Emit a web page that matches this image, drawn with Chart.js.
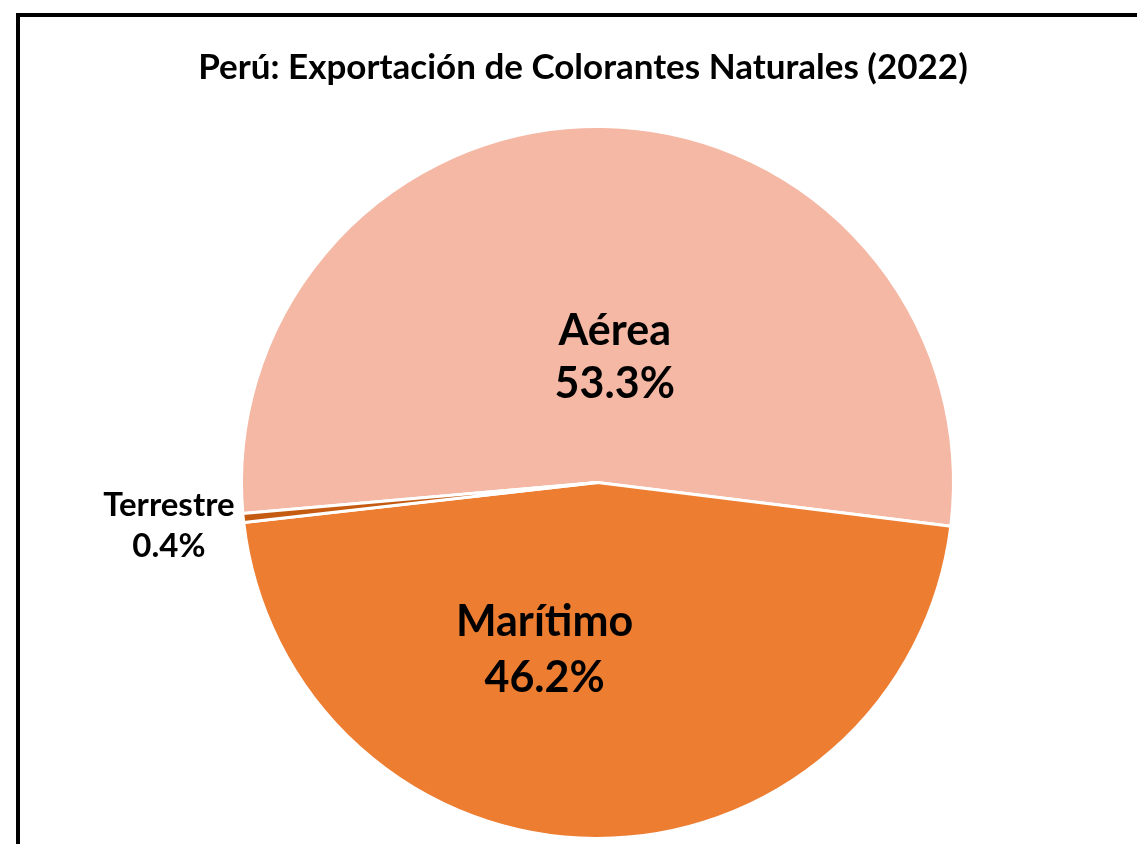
<!DOCTYPE html>
<html>
<head>
<meta charset="utf-8">
<script src="https://cdn.jsdelivr.net/npm/chart.js@4"></script>
<style>
  html, body { margin: 0; padding: 0; background: #fff; }
  #wrap { width: 1137px; height: 844px; position: relative; }
</style>
</head>
<body>
<div id="wrap"><canvas id="chartPie"></canvas></div>
<script>
// datos del grafico
const titulo = 'Perú: Exportación de Colorantes Naturales (2022)';
const categorias = ['Aérea', 'Marítimo', 'Terrestre'];
const porcentajes = [53.3, 46.2, 0.4];
const colores = ['#F4B8A4', '#ED7D31', '#C55A11'];

const FUENTE = 'Lato, "Open Sans", sans-serif';

// posicion de las etiquetas: fraccion del radio sobre el angulo medio + ajuste
const etiquetasCfg = [
    { f: 0.35, dx: 15, dy: 0, size: 43, gap: 53 },
    { f: 0.47, dx: -52, dy: 0, size: 43, gap: 56 },
    { f: 1.21, dx: 0, dy: 0, size: 33, gap: 41 }
];

const marcoYTitulo = {
    id: 'marcoYTitulo',
    afterDraw(chart) {
        const ctx = chart.ctx;
        ctx.save();
        ctx.strokeStyle = '#000';
        ctx.lineWidth = 4;
        ctx.strokeRect(18, 15, 1300, 1000);
        ctx.fillStyle = '#000';
        ctx.font = 'bold 35px ' + FUENTE;
        ctx.textAlign = 'center';
        ctx.textBaseline = 'middle';
        ctx.fillText(titulo, 583, 68);
        ctx.restore();
    }
};

const etiquetas = {
    id: 'etiquetas',
    afterDatasetsDraw(chart) {
        const ctx = chart.ctx;
        const meta = chart.getDatasetMeta(0);
        ctx.save();
        ctx.fillStyle = '#000';
        ctx.textAlign = 'center';
        ctx.textBaseline = 'middle';
        meta.data.forEach((arc, i) => {
            const p = arc.getProps(['x', 'y', 'startAngle', 'endAngle', 'outerRadius'], true);
            const mid = (p.startAngle + p.endAngle) / 2;
            const cfg = etiquetasCfg[i];
            const cx = p.x + Math.cos(mid) * p.outerRadius * cfg.f + cfg.dx;
            const cy = p.y + Math.sin(mid) * p.outerRadius * cfg.f + cfg.dy;
            ctx.font = 'bold ' + cfg.size + 'px ' + FUENTE;
            ctx.fillText(categorias[i], cx, cy - cfg.gap / 2);
            ctx.fillText(porcentajes[i].toFixed(1) + '%', cx, cy + cfg.gap / 2);
        });
        ctx.restore();
    }
};

const ctxPie = document.getElementById('chartPie');
new Chart(ctxPie, {
    type: 'pie',
    data: {
        labels: categorias,
        datasets: [{
            data: porcentajes,
            backgroundColor: colores,
            borderColor: '#ffffff',
            borderWidth: 3
        }]
    },
    options: {
        responsive: true,
        maintainAspectRatio: false,
        animation: false,
        rotation: -95,
        layout: { padding: { top: 125, bottom: 4, left: 240, right: 182 } },
        plugins: {
            legend: { display: false },
            tooltip: { enabled: false },
            title: { display: false }
        }
    },
    plugins: [marcoYTitulo, etiquetas]
});
</script>
</body>
</html>
